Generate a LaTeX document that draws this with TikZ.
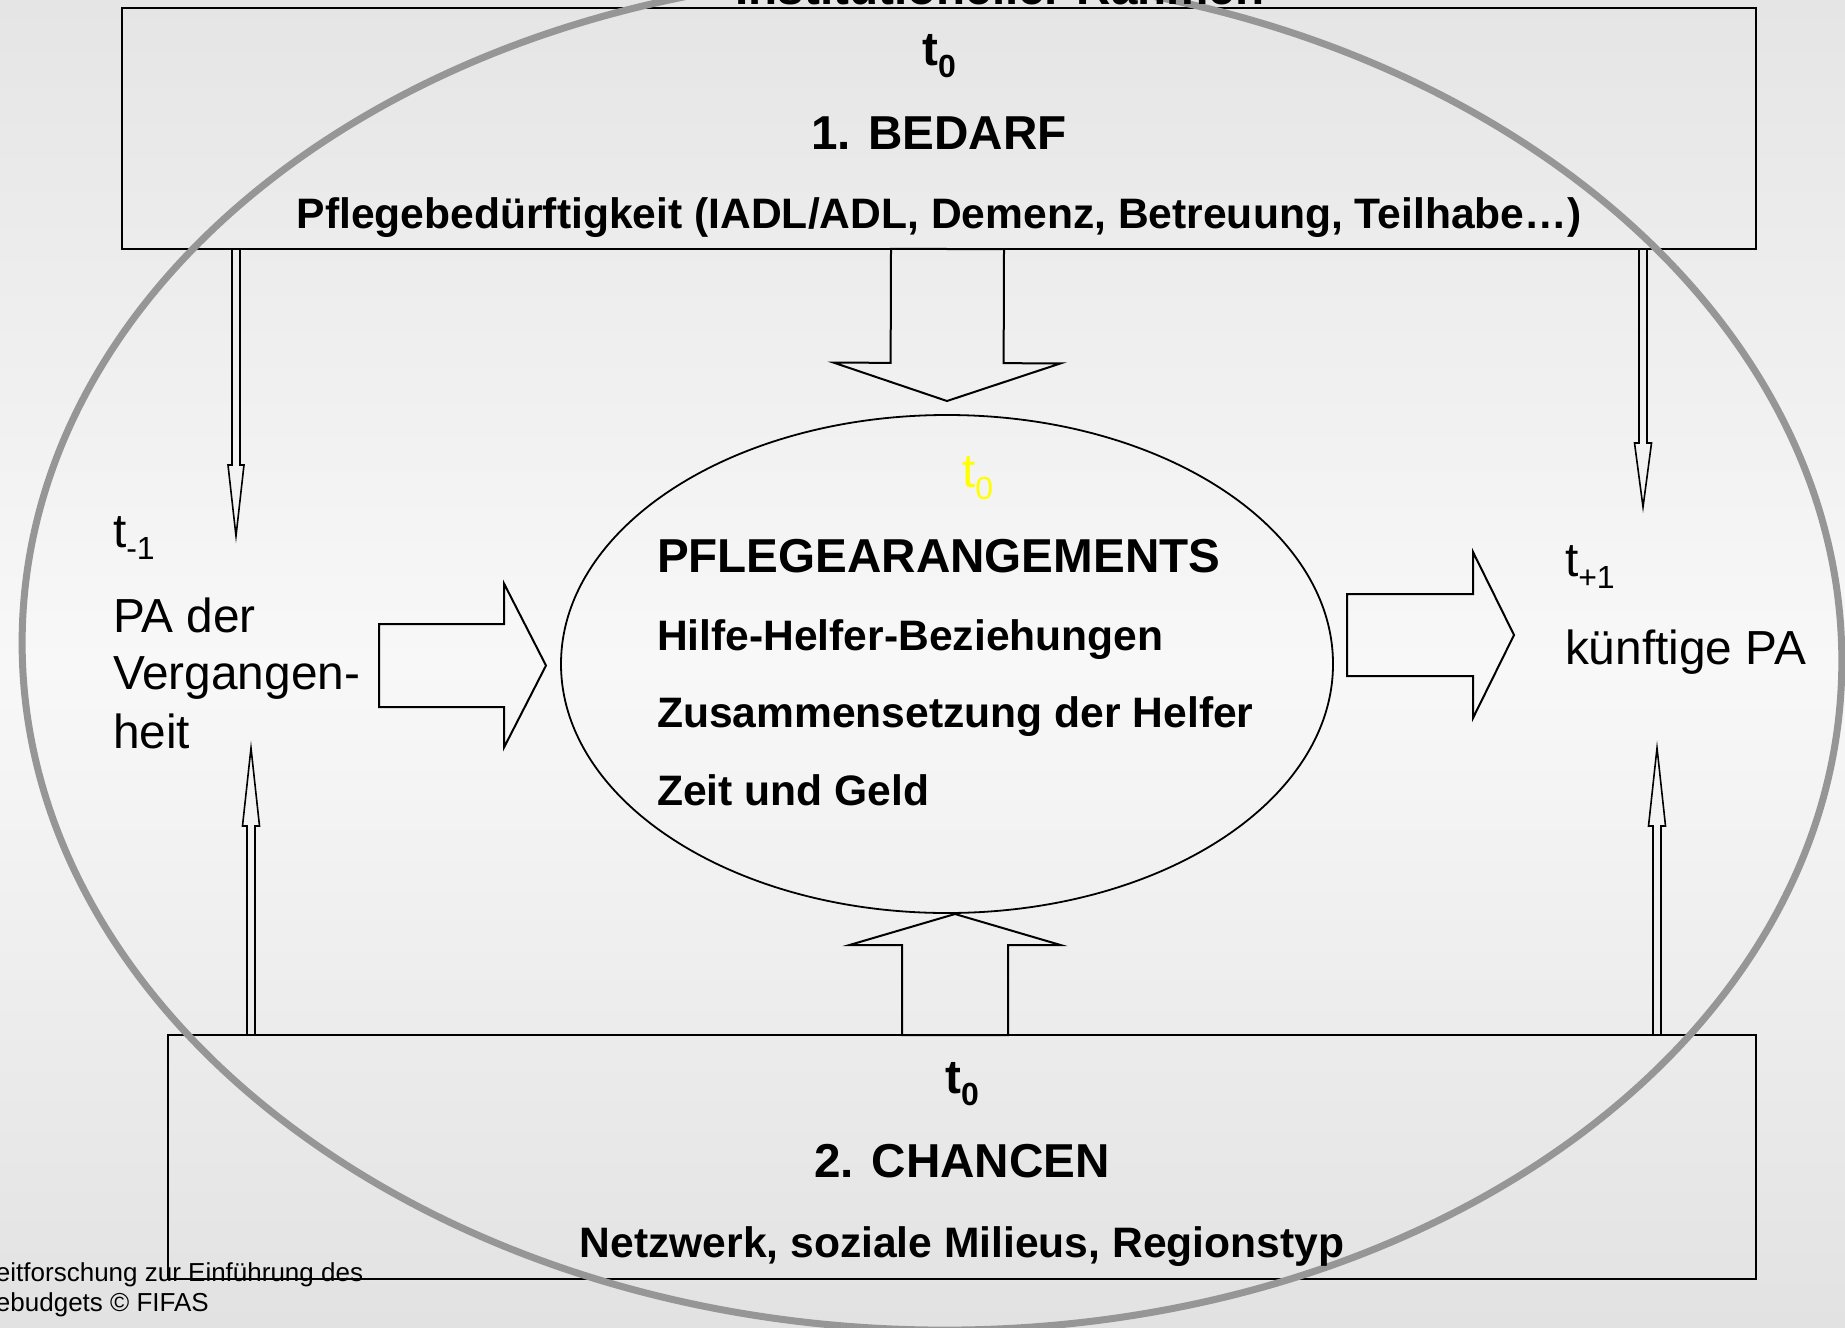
\documentclass[tikz,border=0pt]{standalone}
\usepackage{fontspec}
\setmainfont{Liberation Sans}
\usetikzlibrary{calc,shapes.geometric}
\definecolor{ringgray}{RGB}{150,150,150}
\definecolor{bgtop}{RGB}{229,229,229}
\definecolor{bgmid}{RGB}{248,248,248}
\definecolor{bgbot}{RGB}{226,226,226}
\definecolor{tyellow}{RGB}{255,255,0}
% t with a lowered index
\newcommand{\tsub}[2]{#1\raisebox{-6pt}{\fontsize{16}{16}\selectfont #2}}
% block arrow: [style]{name}{from}{tip}{half shaft}{half head}{head length}
\newcommand{\barrow}[7][]{%
  \coordinate (#2-h) at ($(#4)!#7!(#3)$);
  \draw[#1] ($(#3)!#5!90:(#4)$) -- ($(#2-h)!#5!90:(#4)$) -- ($(#2-h)!#6!90:(#4)$)
     -- (#4) -- ($(#2-h)!#6!-90:(#4)$) -- ($(#2-h)!#5!-90:(#4)$)
     -- ($(#3)!#5!-90:(#4)$) -- cycle;
}
\begin{document}
\begin{tikzpicture}[x=0.5pt,y=-0.5pt,
  boxf/.style={draw, line width=1pt, inner sep=0pt, outer sep=0pt},
  txt/.style={inner sep=0pt, outer sep=0pt},
  big/.style={txt, font=\fontsize{23.8}{28}\selectfont\bfseries},
  subt/.style={txt, font=\fontsize{21.3}{25}\selectfont\bfseries},
  plain/.style={txt, font=\fontsize{23.9}{29}\selectfont},
  foot/.style={txt, font=\fontsize{13}{15}\selectfont},
  blk/.style={draw, line width=1pt, line join=miter},
  thinar/.style={draw, line width=0.8pt, line join=miter},
  ring/.style={draw=ringgray, line width=3.5pt}]
\useasboundingbox (0,0) rectangle (1845,1327);
\shade[top color=bgtop, bottom color=bgbot, middle color=bgmid] (0,0) rectangle (1845,1327);

% boxes
\node[boxf, minimum width=817pt, minimum height=120.5pt] (bedarf) at (939,128.5) {};
\node[boxf, minimum width=794pt, minimum height=122pt] (chancen) at (962,1157) {};
% central ellipse
\node[draw, ellipse, line width=0.9pt, inner sep=0pt, minimum width=386pt, minimum height=249pt] (pa) at (947,664) {};

% arrow end points
\coordinate (a1s) at (236,249);  \coordinate (a1t) at (236,536);
\coordinate (a2s) at (1643,249); \coordinate (a2t) at (1643,507);
\coordinate (a3s) at (251,1035); \coordinate (a3t) at (251,748);
\coordinate (a4s) at (1657,1035);\coordinate (a4t) at (1657,748);
\coordinate (a5s) at (947.5,249);\coordinate (a5t) at (947,401);
\coordinate (a6s) at (955,1035); \coordinate (a6t) at (955,914);
\coordinate (a7s) at (379,665.5);\coordinate (a7t) at (546,665.5);
\coordinate (a8s) at (1347,635); \coordinate (a8t) at (1514,635);

% thin arrows
\barrow[thinar]{a1}{a1s}{a1t}{2pt}{4pt}{35.5pt}
\barrow[thinar]{a2}{a2s}{a2t}{2pt}{4.25pt}{32pt}
\barrow[thinar]{a3}{a3s}{a3t}{2pt}{4.25pt}{39pt}
\barrow[thinar]{a4}{a4s}{a4t}{2pt}{4.25pt}{39pt}
% block arrows
\barrow[blk]{a5}{a5s}{a5t}{28.25pt}{56.75pt}{19pt}
\barrow[blk]{a6}{a6s}{a6t}{26.5pt}{52.75pt}{15.5pt}
\barrow[blk]{a7}{a7s}{a7t}{20.75pt}{41pt}{21pt}
\barrow[blk]{a8}{a8s}{a8t}{20.5pt}{41.5pt}{20.5pt}

% outer ring
\coordinate (ringc) at (932,652);
\draw[ring, rotate around={-1.3:(ringc)}] (ringc) ellipse [x radius=455pt, y radius=339pt];

% texts
\node[big, anchor=base] (title) at (1000,5) {Institutioneller Rahmen};
\node[big, anchor=base] (t0a) at (939,66) {\tsub{t}{0}};
\node[big, anchor=base] (bed) at (939,149) {1. BEDARF};
\node[subt, anchor=base] (bedtxt) at (939,228) {Pflegebedürftigkeit (IADL/ADL, Demenz, Betreuung, Teilhabe…)};

\node[big, anchor=base] (t0b) at (962,1093) {\tsub{t}{0}};
\node[big, anchor=base] (cha) at (962,1177) {2. CHANCEN};
\node[subt, anchor=base] (chatxt) at (962,1257) {Netzwerk, soziale Milieus, Regionstyp};

\node[plain, anchor=base west, text=tyellow] (t0c) at (962,487) {\tsub{t}{0}};
\node[big, anchor=base west] (pahead) at (657,572) {PFLEGEARANGEMENTS};
\node[subt, anchor=base west] (pa1) at (657,650) {Hilfe-Helfer-Beziehungen};
\node[subt, anchor=base west] (pa2) at (657,727) {Zusammensetzung der Helfer};
\node[subt, anchor=base west] (pa3) at (657,805) {Zeit und Geld};

\node[plain, anchor=base west] (tm1) at (113,547) {\tsub{t}{-1}};
\node[plain, anchor=base west] (past1) at (113,632) {PA der};
\node[plain, anchor=base west] (past2) at (113,689) {Vergangen-};
\node[plain, anchor=base west] (past3) at (113,748) {heit};

\node[plain, anchor=base west] (tp1) at (1565,576) {\tsub{t}{+1}};
\node[plain, anchor=base west] (fut) at (1565,664) {künftige PA};

\node[foot, anchor=base west] (foot1) at (-4,1281) {eitforschung zur Einführung des};
\node[foot, anchor=base west] (foot2) at (-4,1311) {ebudgets © FIFAS};
\end{tikzpicture}
\end{document}
